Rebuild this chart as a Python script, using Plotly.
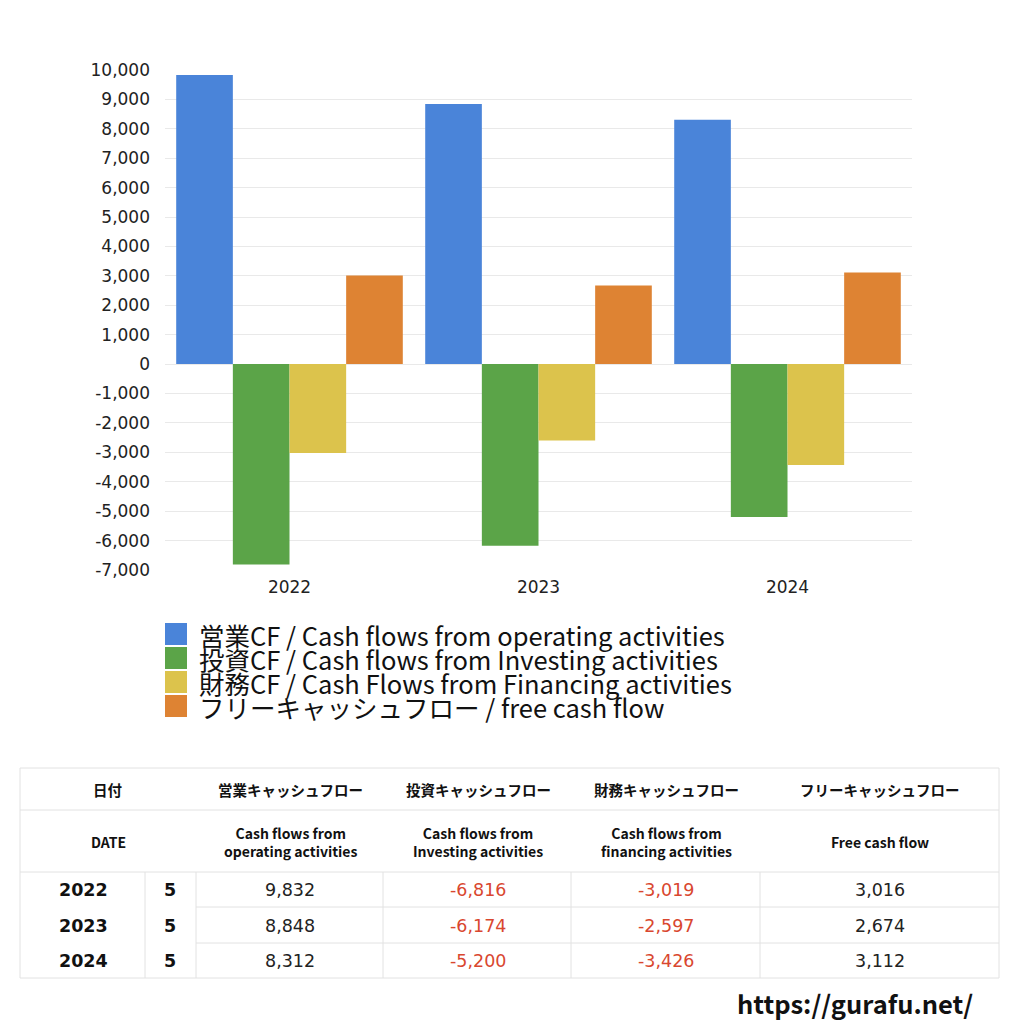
import plotly.graph_objects as go

years = ["2022", "2023", "2024"]
operating = [9832, 8848, 8312]
investing = [-6816, -6174, -5200]
financing = [-3019, -2597, -3426]
free_cf = [3016, 2674, 3112]
months = ["5", "5", "5"]

y_tick_vals = [10000, 9000, 8000, 7000, 6000, 5000, 4000, 3000, 2000, 1000, 0,
               -1000, -2000, -3000, -4000, -5000, -6000, -7000]
y_tick_labels = ["10,000", "9,000", "8,000", "7,000", "6,000", "5,000", "4,000", "3,000", "2,000", "1,000", "0",
                 "-1,000", "-2,000", "-3,000", "-4,000", "-5,000", "-6,000", "-7,000"]

series_names = [
    "営業CF / Cash flows from operating activities",
    "投資CF / Cash flows from Investing activities",
    "財務CF / Cash Flows from Financing activities",
    "フリーキャッシュフロー / free cash flow",
]
series_colors = ["#4a84d9", "#5ba448", "#dcc34c", "#de8333"]
series_values = [operating, investing, financing, free_cf]

table_head_jp = ["日付", "営業キャッシュフロー", "投資キャッシュフロー", "財務キャッシュフロー", "フリーキャッシュフロー"]
table_head_en = ["DATE", "Cash flows from<br>operating activities", "Cash flows from<br>Investing activities",
                 "Cash flows from<br>financing activities", "Free cash flow"]
site_url = "https://gurafu.net/"

W = H = 1024
OFF = 8  # page body margin
FONT = "Noto Sans CJK JP"
NUMFONT = "DejaVu Sans"

def px(x):
    return (x - OFF) / W

def py(y):
    return 1 - (y - OFF) / H

fig = go.Figure()
for name, vals, col in zip(series_names, series_values, series_colors):
    fig.add_trace(go.Bar(x=years, y=vals, name=name, marker=dict(color=col, line=dict(width=0)),
                         showlegend=False))

fig.update_layout(
    width=W, height=H, margin=dict(l=0, r=0, t=0, b=0, autoexpand=False),
    paper_bgcolor="white", plot_bgcolor="white",
    barmode="group", bargap=0.09, bargroupgap=0,
    font=dict(family=FONT, color="#222"),
    xaxis=dict(domain=[px(165), px(912)], showline=False, ticks="", automargin=False,
               tickfont=dict(family=NUMFONT, size=17, color="#222"), showgrid=False,
               ticklabelstandoff=5),
    yaxis=dict(domain=[py(570), py(70)], range=[-7000, 10000], tickvals=y_tick_vals, ticktext=y_tick_labels,
               automargin=False, showgrid=True, gridcolor="#e9e9e9", zeroline=True, zerolinecolor="#e9e9e9",
               zerolinewidth=1, tickfont=dict(family=NUMFONT, size=17, color="#222"), ticks="",
               ticklabelstandoff=14),
)

shapes = []
ann = []

# manual legend
for i, (name, col) in enumerate(zip(series_names, series_colors)):
    cy = 634 + 24 * i
    shapes.append(dict(type="rect", xref="paper", yref="paper", x0=px(165), x1=px(187),
                       y0=py(cy + 11), y1=py(cy - 11), fillcolor=col, line=dict(width=0)))
    ann.append(dict(xref="paper", yref="paper", x=px(197), y=py(cy), text=name, showarrow=False,
                    xanchor="left", yanchor="middle", font=dict(size=25.5, color="#111")))

# table
line_col = "#e2e2e2"
L, R = 20, 999
col_edges = [20, 145, 196, 383, 571, 760, 999]

def hline(y, x0, x1):
    shapes.append(dict(type="line", xref="paper", yref="paper", x0=px(x0), x1=px(x1), y0=py(y), y1=py(y),
                       line=dict(color=line_col, width=1)))

def vline(x, y0, y1):
    shapes.append(dict(type="line", xref="paper", yref="paper", x0=px(x), x1=px(x), y0=py(y0), y1=py(y1),
                       line=dict(color=line_col, width=1)))

hline(768, L, R); hline(810, L, R); hline(872, L, R); hline(978, L, R)
hline(907, 196, R); hline(943, 196, R)
vline(L, 768, 978); vline(R, 768, 978)
for x in col_edges[1:-1]:
    vline(x, 872, 978)

head_centers = [108, 290, 478, 666, 880]
for cx, jp, en in zip(head_centers, table_head_jp, table_head_en):
    ann.append(dict(xref="paper", yref="paper", x=px(cx), y=py(789), text="<b>" + jp + "</b>", showarrow=False,
                    xanchor="center", yanchor="middle", font=dict(size=14.5, color="#111")))
    ann.append(dict(xref="paper", yref="paper", x=px(cx), y=py(842), text="<b>" + en + "</b>", showarrow=False,
                    xanchor="center", yanchor="middle", font=dict(size=14, color="#111")))

row_centers = [890, 926, 961]
val_centers = [290, 478, 666, 880]
for r, yr in enumerate(years):
    cy = row_centers[r]
    ann.append(dict(xref="paper", yref="paper", x=px(83), y=py(cy), text="<b>" + yr + "</b>", showarrow=False,
                    xanchor="center", yanchor="middle", font=dict(family=NUMFONT, size=17.5, color="#111")))
    ann.append(dict(xref="paper", yref="paper", x=px(170), y=py(cy), text="<b>" + months[r] + "</b>",
                    showarrow=False, xanchor="center", yanchor="middle",
                    font=dict(family=NUMFONT, size=17.5, color="#111")))
    for cx, vals in zip(val_centers, series_values):
        v = vals[r]
        ann.append(dict(xref="paper", yref="paper", x=px(cx), y=py(cy), text=f"{v:,}", showarrow=False,
                        xanchor="center", yanchor="middle",
                        font=dict(family=NUMFONT, size=17.5, color="#d9472f" if v < 0 else "#222")))

ann.append(dict(xref="paper", yref="paper", x=px(975), y=py(1002), text="<b>" + site_url + "</b>",
                showarrow=False, xanchor="right", yanchor="middle", font=dict(size=25.5, color="#111")))

fig.update_layout(shapes=shapes, annotations=ann)
fig.write_html("out.html")
